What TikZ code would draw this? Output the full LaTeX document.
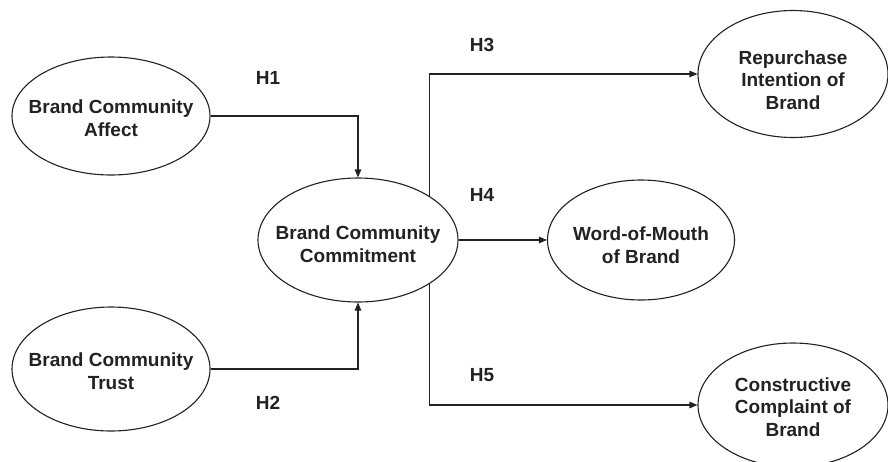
\documentclass[tikz,border=0pt]{standalone}
\usepackage{fontspec}
\setmainfont{Liberation Sans}
\usetikzlibrary{shapes.geometric,arrows.meta}
\definecolor{ink}{HTML}{222222}
\begin{document}
\begin{tikzpicture}[x=1pt,y=-1pt,
  construct/.style={ellipse,draw=ink,line width=1.1pt,inner sep=0pt},
  ctext/.style={align=center,inner sep=0pt,
    font=\fontsize{19}{22.5}\selectfont\bfseries,text=ink},
  hyp/.style={font=\fontsize{19}{22}\selectfont\bfseries,text=ink},
  link/.style={draw=ink,line width=1.1pt,-{Triangle[length=8pt,width=6.5pt]}}]
\clip (0,0) rectangle (888,461);
\fill[white] (0,0) rectangle (888,461);
\node[construct,minimum width=198pt,minimum height=118pt] (aff) at (111,116) {};
\node[construct,minimum width=198pt,minimum height=124pt] (tru) at (111,369) {};
\node[construct,minimum width=200pt,minimum height=124pt] (com) at (358,240) {};
\node[construct,minimum width=190pt,minimum height=127pt] (rep) at (793,74) {};
\node[construct,minimum width=187pt,minimum height=120pt] (wom) at (641,240) {};
\node[construct,minimum width=190pt,minimum height=124pt] (con) at (793,405) {};
\node[ctext] (afft) at (111,118) {Brand Community\\Affect};
\node[ctext] (trut) at (111,371) {Brand Community\\Trust};
\node[ctext] (comt) at (358,244) {Brand Community\\Commitment};
\node[ctext] (rept) at (793,80) {Repurchase\\Intention of\\Brand};
\node[ctext] (womt) at (641,245) {Word-of-Mouth\\of Brand};
\node[ctext] (cont) at (793,407) {Constructive\\Complaint of\\Brand};
\draw[link] (aff.east) -| (com.north);
\draw[link] (tru.east) -| (com.south);
\draw[link] (com.north east) |- (rep.west);
\draw[link] (com.east) -- (wom.west);
\draw[link] (com.south east) |- (con.west);
\node[hyp] (h1) at (268,78) {H1};
\node[hyp] (h2) at (268,403) {H2};
\node[hyp] (h3) at (482,45) {H3};
\node[hyp] (h4) at (482,195) {H4};
\node[hyp] (h5) at (482,375) {H5};
\end{tikzpicture}
\end{document}
